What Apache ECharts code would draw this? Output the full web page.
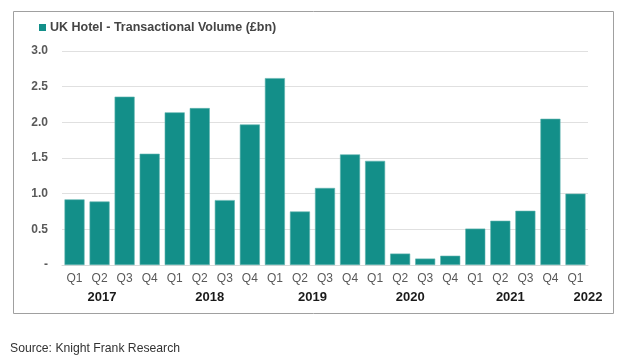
<!DOCTYPE html>
<html>
<head>
<meta charset="utf-8">
<script src="https://cdn.jsdelivr.net/npm/echarts@6/dist/echarts.min.js"></script>
<style>
html,body{margin:0;padding:0;background:#fff;}
#chart{width:627px;height:361px;}
</style>
</head>
<body>
<div id="chart"></div>
<script>
// ---- data ----
var quarters = ['Q1','Q2','Q3','Q4','Q1','Q2','Q3','Q4','Q1','Q2','Q3','Q4','Q1','Q2','Q3','Q4','Q1','Q2','Q3','Q4','Q1'];
var volumes = [0.92,0.89,2.36,1.56,2.14,2.20,0.91,1.97,2.62,0.75,1.08,1.55,1.46,0.16,0.09,0.13,0.51,0.62,0.76,2.05,1.00];
var years = ['2017','2018','2019','2020','2021','2022'];
var yTicks = [0, 0.5, 1.0, 1.5, 2.0, 2.5, 3.0];
var seriesName = 'UK Hotel - Transactional Volume (£bn)';
var sourceText = 'Source: Knight Frank Research';

// ---- layout (label placement along the category scale) ----
var yearPos = [1.1, 5.4, 9.5, 13.4, 17.4, 20.5];

var chart = echarts.init(document.getElementById('chart'), null, {renderer:'canvas'});
var option = {
  animation: false,
  backgroundColor: '#fff',
  graphic: [{
    type: 'rect', left: 11, top: 9, z: -1,
    shape: {width: 600, height: 302},
    style: {fill: 'none', stroke: '#a0a0a0', lineWidth: 1}
  }],
  title: {
    text: sourceText, left: 5, top: 338,
    textStyle: {fontFamily: 'Liberation Sans, Arial', fontSize: 12.2, fontWeight: 'normal', color: '#333'}
  },
  legend: {
    left: 34, top: 16, itemWidth: 7, itemHeight: 7, itemGap: 4,
    icon: 'rect',
    itemStyle: {borderWidth: 0},
    textStyle: {fontFamily: 'Liberation Sans, Arial', fontSize: 12.5, fontWeight: 'bold', color: '#454545', padding:[0,0,0,-1]},
    data: [seriesName]
  },
  grid: {left: 62, right: 39, top: 51, bottom: 96, containLabel: false},
  xAxis: [{
    type: 'category', data: quarters, position: 'bottom',
    axisLine: {show: true, lineStyle: {color: '#d9d9d9'}},
    axisTick: {show: false},
    axisLabel: {interval: 0, margin: 8, fontFamily: 'Liberation Sans, Arial', fontSize: 12, color: '#595959'}
  },{
    type: 'value', position: 'bottom', min: -0.5, max: 20.5, interval: 0.1,
    axisLine: {show: false}, axisTick: {show: false}, splitLine: {show: false},
    axisLabel: {
      margin: 26, fontFamily: 'Liberation Sans, Arial', fontSize: 13, fontWeight: 'bold', color: '#1a1a1a',
      showMinLabel: true, showMaxLabel: true,
      formatter: function (v) {
        for (var i = 0; i < yearPos.length; i++) {
          if (Math.abs(v - yearPos[i]) < 0.01) return years[i];
        }
        return '';
      }
    }
  }],
  yAxis: {
    type: 'value', min: 0, max: 3, interval: 0.5,
    axisLine: {show: false}, axisTick: {show: false},
    splitLine: {lineStyle: {color: '#e0e0e0', width: 1}},
    axisLabel: {
      margin: 14, fontFamily: 'Liberation Sans, Arial', fontSize: 12, fontWeight: 'bold', color: '#595959',
      formatter: function (v) { return v === 0 ? '-' : v.toFixed(1); }
    }
  },
  series: [{
    name: seriesName, type: 'bar', xAxisIndex: 0,
    data: volumes, barCategoryGap: '20%',
    itemStyle: {color: '#138f89', borderColor: '#5fb3ae', borderWidth: 0.6}
  }]
};
chart.setOption(option);
</script>
</body>
</html>
